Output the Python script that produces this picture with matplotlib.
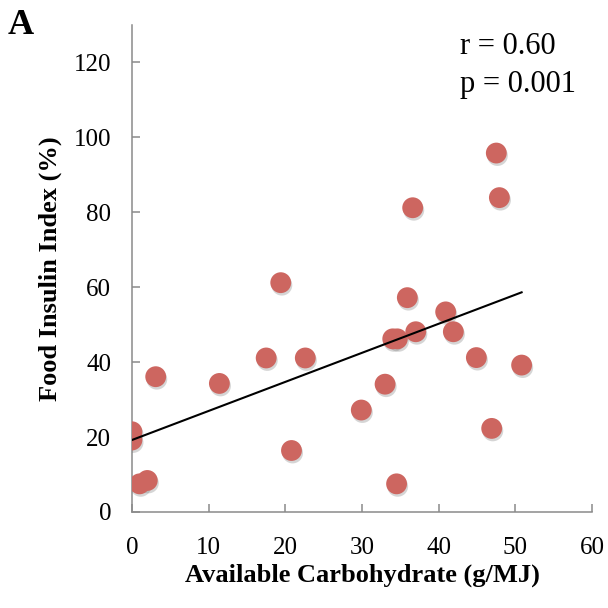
import numpy as np
import matplotlib
matplotlib.use("Agg")
import matplotlib.pyplot as plt
import matplotlib.patheffects as pe

plt.rcParams["font.family"] = ["Liberation Serif", "DejaVu Serif"]

# available carbohydrate (g/MJ), food insulin index (%)
carb = [0.0, 0.0, 1.0, 2.0, 3.1, 11.4, 17.5, 19.4, 20.8, 22.6, 29.9, 33.0, 34.0,
        34.6, 34.5, 35.9, 36.6, 37.0, 40.9, 41.9, 44.9, 46.9, 47.5, 47.9, 50.8]
fii = [21.4, 19.2, 7.5, 8.4, 36.1, 34.3, 41.1, 61.2, 16.4, 41.1, 27.2, 34.1, 46.2,
       46.2, 7.5, 57.2, 81.2, 48.1, 53.4, 48.1, 41.2, 22.3, 95.8, 83.9, 39.2]

# trend line (intercept, slope) and its x range
fit_b, fit_m = 19.2, 0.776
fit_x = [0.0, 50.8]

GRAY = "#8a8a8a"

fig = plt.figure(figsize=(6.08, 6.08), dpi=100)
ax = fig.add_axes([0.217, 0.158, 0.757, 0.801])

ax.scatter(carb, fii, s=225, color="#cd6660", zorder=3, linewidths=0,
           path_effects=[pe.SimplePatchShadow(offset=(0.8, -1.8), shadow_rgbFace="#777777", alpha=0.3),
                         pe.Normal()])
fx = np.array(fit_x)
ax.plot(fx, fit_b + fit_m * fx, color="black", lw=1.5, zorder=4)

ax.set_xlim(0, 60)
ax.set_ylim(0, 130)
ax.set_xticks(range(0, 61, 10))
ax.set_yticks(range(0, 121, 20))
for s in ("top", "right"):
    ax.spines[s].set_visible(False)
for s in ("left", "bottom"):
    ax.spines[s].set_color(GRAY)
    ax.spines[s].set_linewidth(1.1)
ax.tick_params(direction="in", length=6, width=1.1, color=GRAY, labelsize=18)
ax.tick_params(axis="y", pad=15)
ax.tick_params(axis="x", pad=18)

ax.set_xlabel("Available Carbohydrate (g/MJ)", fontsize=19, fontweight="bold", labelpad=3)
ax.set_ylabel("Food Insulin Index (%)", fontsize=19, fontweight="bold", labelpad=8)

fig.text(0.757, 0.923, "r = 0.60", fontsize=22, va="center")
fig.text(0.757, 0.861, "p = 0.001", fontsize=22, va="center")
fig.text(0.013, 0.958, "A", fontsize=26, fontweight="bold", va="center")

fig.savefig("out.png", dpi=100)
